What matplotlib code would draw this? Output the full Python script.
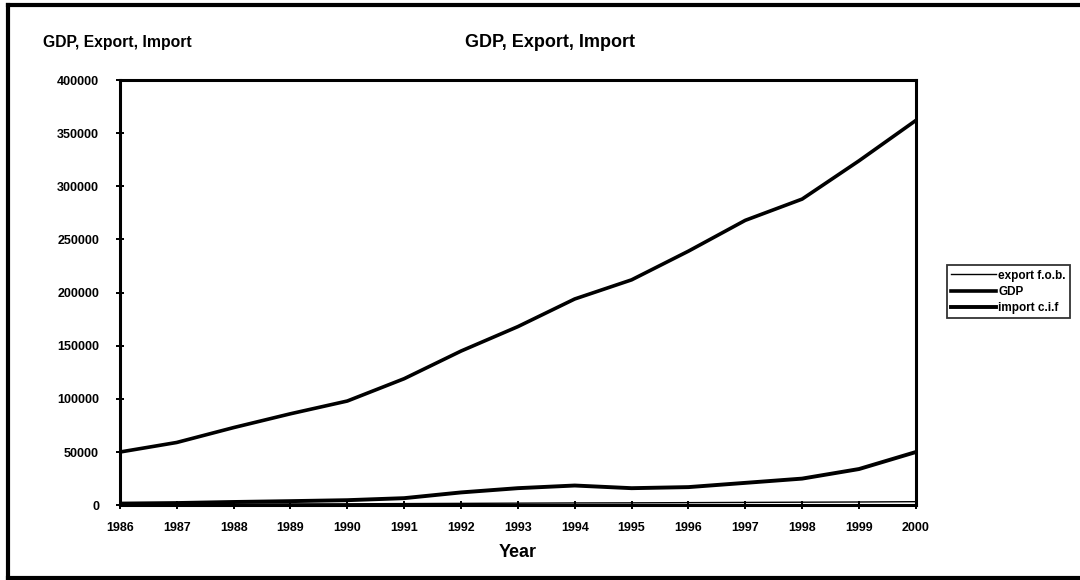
import matplotlib.pyplot as plt
from matplotlib.lines import Line2D

plt.rcParams['font.family'] = ['Liberation Sans', 'DejaVu Sans']

years = list(range(1986, 2001))
gdp = [50000, 59000, 73000, 86000, 98000, 119000, 145000, 168000,
       194000, 212000, 239000, 268000, 288000, 324000, 362000]
imports = [1500, 2000, 3000, 3800, 4700, 6600, 12000, 16000,
           18500, 16000, 17000, 21000, 25000, 34000, 50000]
exports = [800, 900, 1000, 1200, 1300, 1500, 1700, 1900,
           2100, 2200, 2400, 2600, 2800, 3000, 3300]

y_ticks = [0, 50000, 100000, 150000, 200000, 250000, 300000, 350000, 400000]

fig = plt.figure(figsize=(10.8, 5.8), dpi=100)
ax = fig.add_axes([0.111, 0.129, 0.737, 0.733])

ax.plot(years, exports, color='black', linewidth=1.0, label='export f.o.b.')
ax.plot(years, gdp, color='black', linewidth=2.6, label='GDP')
ax.plot(years, imports, color='black', linewidth=2.8, label='import c.i.f')

ax.set_xlim(1986, 2000)
ax.set_ylim(0, 400000)
ax.set_xticks(years)
ax.set_yticks(y_ticks)
ax.tick_params(direction='inout', length=6, width=1.4, labelsize=9)
ax.tick_params(axis='x', pad=9)
ax.tick_params(axis='y', pad=12)
for lbl in ax.get_xticklabels() + ax.get_yticklabels():
    lbl.set_fontweight('bold')

for sp in ax.spines.values():
    sp.set_linewidth(2.2)

ax.set_xlabel('Year', fontsize=13, fontweight='bold', labelpad=7)
fig.text(0.509, 0.927, 'GDP, Export, Import', fontsize=13, fontweight='bold',
         ha='center', va='center')
fig.text(0.040, 0.926, 'GDP, Export, Import', fontsize=11.3, fontweight='bold',
         ha='left', va='center')

leg = ax.legend(loc='center left', bbox_to_anchor=(1.039, 0.502),
                prop={'size': 8.5, 'weight': 'bold'},
                frameon=True, fancybox=False, edgecolor='black',
                handlelength=3.8, borderpad=0.35, labelspacing=0.35,
                handletextpad=0.2, borderaxespad=0)
leg.get_frame().set_linewidth(1.3)

# border lines around the chart (left, top, bottom)
frame = dict(transform=fig.transFigure, color='black', linewidth=3)
fig.lines.append(Line2D([0.007, 0.007], [0.003, 0.991], **frame))
fig.lines.append(Line2D([0.007, 1.0], [0.991, 0.991], **frame))
fig.lines.append(Line2D([0.007, 1.0], [0.003, 0.003], **frame))

fig.savefig('out.png', dpi=100)
